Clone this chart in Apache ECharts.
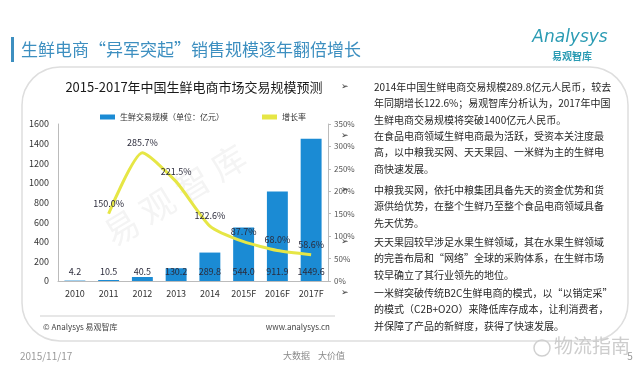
<!DOCTYPE html>
<html><head><meta charset="utf-8">
<script src="https://cdn.jsdelivr.net/npm/echarts@6/dist/echarts.min.js"></script>
<style>html,body{margin:0;padding:0;background:#fff;}#c{width:640px;height:370px;}</style>
</head><body><div id="c"></div>
<script>
var categories = ['2010','2011','2012','2013','2014','2015F','2016F','2017F'];
var scaleValues = [4.2, 10.5, 40.5, 130.2, 289.8, 544.0, 911.9, 1449.6];
var growthValues = [null, 150.0, 285.7, 221.5, 122.6, 87.7, 68.0, 58.6];
var leftTicks = {min: 0, max: 1600, interval: 200};
var rightTicks = {min: 0, max: 350, interval: 50};
var seriesNames = ['生鲜交易规模（单位：亿元）', '增长率'];

var bullets = [
  ['2014年中国生鲜电商交易规模289.8亿元人民币，较去', '年同期增长122.6%；易观智库分析认为，2017年中国', '生鲜电商交易规模将突破1400亿元人民币。'],
  ['在食品电商领域生鲜电商最为活跃，受资本关注度最', '高，以中粮我买网、天天果园、一米鲜为主的生鲜电', '商快速发展。'],
  ['中粮我买网，依托中粮集团具备先天的资金优势和货', '源供给优势，在整个生鲜乃至整个食品电商领域具备', '先天优势。'],
  ['天天果园较早涉足水果生鲜领域，其在水果生鲜领域', '的完善布局和“网络”全球的采购体系，在生鲜市场', '较早确立了其行业领先的地位。'],
  ['一米鲜突破传统B2C生鲜电商的模式，以“以销定采”', '的模式（C2B+O2O）来降低库存成本，让利消费者，', '并保障了产品的新鲜度，获得了快速发展。']
];
var bulletTops = [87, 136, 190, 242, 293];

var CJK = '"Noto Sans CJK SC", "Noto Sans", sans-serif';
var graphics = [];
function txt(t, x, y, size, color, opts) {
  opts = opts || {};
  graphics.push({
    type: 'text', silent: true, z: opts.z == null ? 10 : opts.z, rotation: opts.rotation || 0,
    x: opts.gx || 0, y: opts.gy || 0,
    style: {
      text: t, x: x, y: y, fill: color, opacity: opts.opacity == null ? 1 : opts.opacity,
      font: (opts.weight || 'normal') + ' ' + size + 'px ' + (opts.family || CJK),
      textAlign: opts.align || 'left', textVerticalAlign: 'middle',
      align: opts.align || 'left', verticalAlign: 'middle'
    }
  });
}
// panel
graphics.push({type:'rect', silent:true, z:1, shape:{x:22,y:67,width:606,height:274,r:38}, style:{fill:'none', stroke:'#dedede', lineWidth:1.5}});
// title bar
graphics.push({type:'rect', silent:true, z:10, shape:{x:11,y:37,width:3,height:25}, style:{fill:'#3d8fc0'}});
txt('生鲜电商“异军突起”销售规模逐年翻倍增长', 21, 50, 17, '#3d8fc0');
// logo
txt('Analysys', 570, 38, 17, '#2a9bb3', {align:'center', family:'"DejaVu Sans", sans-serif', weight:'italic'});
txt('易观智库', 572, 56, 10, '#2a9bb3', {align:'center', weight:'bold'});
// chart title
txt('2015-2017年中国生鲜电商市场交易规模预测', 194, 87, 13, '#1a1a1a', {align:'center'});
// footer
graphics.push({type:'line', silent:true, z:10, shape:{x1:40,y1:316,x2:335,y2:316}, style:{stroke:'#cfcfcf', lineWidth:1}});
txt('© Analysys 易观智库', 43, 327, 8, '#444');
txt('www.analysys.cn', 330, 327, 8, '#444', {align:'right'});
txt('2015/11/17', 20, 356, 10, '#9a9a9a');
txt('大数据    大价值', 314, 356, 9, '#8a8a8a', {align:'center'});
txt('物流指南', 554, 346, 19, '#cdcdcd');
graphics.push({type:'circle', silent:true, z:10, shape:{cx:542,cy:348,r:8}, style:{fill:'none', stroke:'#d0d0d0', lineWidth:1.5}});
txt('5', 630, 356, 10, '#9a9a9a', {align:'center'});
// watermark
txt('易 观 智 库', 0, 0, 34, '#f4f4f4', {gx:175, gy:195, rotation:0.55, align:'center', z:0});
// bullets
for (var b = 0; b < bullets.length; b++) {
  txt('➢', 341, bulletTops[b], 9, '#333', {family:'"DejaVu Sans", sans-serif'});
  for (var l = 0; l < bullets[b].length; l++) {
    txt(bullets[b][l], 374, bulletTops[b] + l * 16.6, 10, '#262626');
  }
}

var chart = echarts.init(document.getElementById('c'), null, {renderer:'canvas'});
chart.setOption({
  animation: false,
  textStyle: {fontFamily: CJK},
  legend: {
    left: 95, top: 108, itemGap: 38, itemWidth: 15, itemHeight: 5,
    textStyle: {fontSize: 8, color: '#333', fontFamily: CJK},
    data: [{name: seriesNames[0], icon: 'rect'}, {name: seriesNames[1], icon: 'rect', itemStyle: {color: '#e6e645'}}]
  },
  grid: {left: 58, right: 312, top: 124, bottom: 89, containLabel: false},
  xAxis: {
    type: 'category', data: categories,
    axisLine: {lineStyle: {color: '#bbb'}}, axisTick: {show: false},
    axisLabel: {fontSize: 9, color: '#333', margin: 8}
  },
  yAxis: [
    {type: 'value', min: leftTicks.min, max: leftTicks.max, interval: leftTicks.interval,
     axisLine: {show: true, lineStyle: {color: '#bbb'}}, axisTick: {show: false}, splitLine: {show: false},
     axisLabel: {fontSize: 9, color: '#333', margin: 9, formatter: function(v){ return String(v); }}},
    {type: 'value', min: rightTicks.min, max: rightTicks.max, interval: rightTicks.interval,
     axisLine: {show: true, lineStyle: {color: '#bbb'}}, axisTick: {show: true, length: 3, lineStyle:{color:'#bbb'}}, splitLine: {show: false},
     axisLabel: {fontSize: 8, color: '#555', margin: 6, formatter: function(v){ return v + '%'; }}}
  ],
  graphic: graphics,
  series: [
    {name: seriesNames[0], type: 'bar', data: scaleValues, barWidth: '62%', z: 3,
     itemStyle: {color: '#1b8bd4'},
     label: {show: true, position: 'insideBottom', distance: 5, fontSize: 9, color: '#2b2b3b',
       formatter: function(p){ return p.value.toFixed(1); }}},
    {name: seriesNames[1], type: 'line', yAxisIndex: 1, data: growthValues, smooth: 0.2,
     symbol: 'circle', symbolSize: 0.1, showSymbol: true, z: 5,
     lineStyle: {color: '#e6e645', width: 3}, itemStyle: {color: '#e6e645'},
     label: {show: true, position: 'top', distance: 6, fontSize: 9, color: '#2b2b3b',
       formatter: function(p){ return p.value == null ? '' : p.value.toFixed(1) + '%'; }}}
  ]
});
</script></body></html>
